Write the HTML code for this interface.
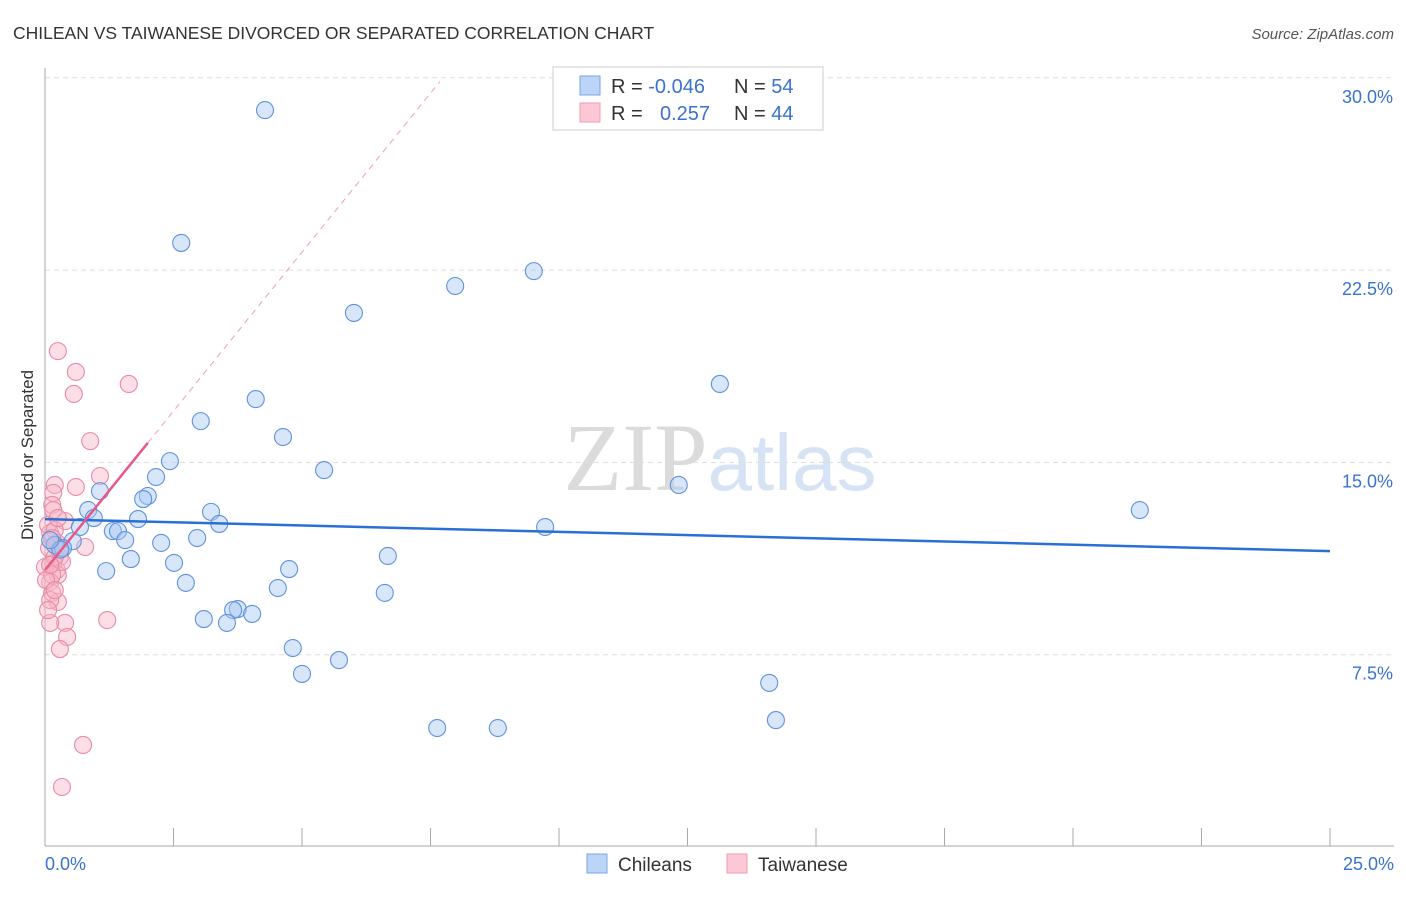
<!DOCTYPE html>
<html><head><meta charset="utf-8"><style>
body{margin:0;background:#fff;font-family:"Liberation Sans",sans-serif}
</style></head><body>
<svg id="chart" width="1406" height="892" xmlns="http://www.w3.org/2000/svg" font-family="Liberation Sans, sans-serif">
<text x="13" y="39" font-size="17.5" fill="#333">CHILEAN VS TAIWANESE DIVORCED OR SEPARATED CORRELATION CHART</text>
<text x="1394" y="39" font-size="15" fill="#555" font-style="italic" text-anchor="end">Source: ZipAtlas.com</text>
<text x="720" y="490" font-size="96" text-anchor="middle" fill="#ddd" opacity="0.7"><tspan font-family="Liberation Serif, serif" fill="#ccc">ZIP</tspan><tspan fill="#c5d8f0" font-size="80">atlas</tspan></text>
<g id="grid"></g>
<g id="axes"></g>
<g id="marks"></g>
<text transform="translate(33,455) rotate(-90)" font-size="17" fill="#333" text-anchor="middle">Divorced or Separated</text>
<g>
<rect x="553" y="67" width="270" height="63" fill="#fff" stroke="#ccc"/>
<rect x="580" y="76" width="20" height="19" fill="#bcd4f5" stroke="#7aa6e6"/>
<rect x="580" y="103" width="20" height="19" fill="#fcc8d6" stroke="#ee9db5"/>
<text x="611" y="93" font-size="20" fill="#333">R = <tspan fill="#3a72d0">-0.046</tspan></text>
<text x="734" y="93" font-size="20" fill="#333">N = <tspan fill="#3a72d0">54</tspan></text>
<text x="611" y="120" font-size="20" fill="#333">R = <tspan fill="#3a72d0" x="660">0.257</tspan></text>
<text x="734" y="120" font-size="20" fill="#333">N = <tspan fill="#3a72d0">44</tspan></text>
</g>
<g>
<rect x="587" y="854" width="20" height="19" fill="#bcd4f5" stroke="#7aa6e6"/>
<text x="618" y="871" font-size="19" fill="#333">Chileans</text>
<rect x="727" y="854" width="20" height="19" fill="#fcc8d6" stroke="#ee9db5"/>
<text x="758" y="871" font-size="19" fill="#333">Taiwanese</text>
</g>
</svg>
<script>
const yTicks=[7.5,15,22.5,30];
const yTickLabels=["7.5%","15.0%","22.5%","30.0%"];
const xTickLabels=["0.0%","25.0%"];
const chileX=[4.28,2.65,9.51,7.98,6.01,13.13,4.10,3.03,4.63,2.43,5.43,2.16,12.33,1.07,2.00,1.91,21.30,0.84,3.23,0.95,1.81,3.39,9.73,0.68,1.32,1.42,1.56,2.96,2.26,0.54,0.19,0.35,6.67,1.67,2.51,1.19,4.75,2.74,4.53,6.61,3.75,3.66,4.03,3.09,3.54,4.82,5.72,5.00,14.09,7.63,8.81,14.22,0.30,0.10];
const chileY=[28.74,23.56,22.46,21.88,20.83,18.06,17.47,16.61,15.99,15.05,14.70,14.43,14.12,13.88,13.69,13.57,13.14,13.14,13.07,12.83,12.79,12.60,12.48,12.48,12.32,12.32,11.97,12.05,11.86,11.93,11.78,11.66,11.35,11.23,11.08,10.76,10.84,10.30,10.10,9.91,9.28,9.24,9.09,8.89,8.74,7.76,7.29,6.75,6.40,4.64,4.64,4.95,11.60,11.97];
const taiX=[0.25,0.60,0.56,1.63,0.88,1.07,0.60,0.19,0.16,0.14,0.39,0.16,0.10,0.78,0.23,0.29,0.16,0.23,0.25,0.10,0.14,0.25,0.10,1.21,0.39,0.10,0.43,0.29,0.74,0.33,0.06,0.19,0.08,0.33,0.00,0.14,0.06,0.19,0.29,0.14,0.25,0.02,0.19,0.10];
const taiY=[19.34,18.53,17.67,18.06,15.83,14.47,14.04,14.12,13.81,13.34,12.71,13.14,12.25,11.70,11.86,11.31,11.08,10.80,10.61,10.34,9.91,9.56,9.63,8.85,8.74,8.74,8.19,7.72,3.98,2.34,12.56,12.36,11.66,11.12,10.92,10.61,9.24,11.31,11.66,12.05,12.83,10.41,10.02,11.00];
const chileTrend=[12.79,11.54];
const taiTrend=[10.80,2.48];
const NS="http://www.w3.org/2000/svg";
const X=v=>45+v/25*1285, Y=v=>847-v/7.5*192.3;
function mk(p,t,a){const e=document.createElementNS(NS,t);for(const k in a)e.setAttribute(k,a[k]);document.getElementById(p).appendChild(e);return e;}
yTicks.forEach((t,i)=>{
 const g=mk('grid','line',{x1:45,x2:1394,y1:Y(t),y2:Y(t),stroke:'#ddd','stroke-dasharray':'5,4'});
 
 
 const l=mk('axes','text',{x:1393,y:Y(t)+25,'font-size':18,fill:'#3a72d0','text-anchor':'end'});
 l.textContent=yTickLabels[i];
 
 
});
let a=mk('axes','line',{x1:45,x2:45,y1:68,y2:846,stroke:'#aaa'});


a=mk('axes','line',{x1:45,x2:1394,y1:846,y2:846,stroke:'#aaa'});


for(let i=1;i<=10;i++){const t=mk('axes','line',{x1:X(i*2.5),x2:X(i*2.5),y1:828,y2:846,stroke:'#aaa'});
 
 }
[[0,'start',45],[1,'end',1394]].forEach(([i,anc,x])=>{const l=mk('axes','text',{x:x,y:870,'font-size':18,fill:'#3a72d0','text-anchor':anc});l.textContent=xTickLabels[i];
 
 });
taiX.forEach((v,i)=>{const c=mk('marks','circle',{cx:X(v),cy:Y(taiY[i]),r:8.5,fill:'#f7b6c8','fill-opacity':0.45,stroke:'#e98aa6','stroke-width':1.1});
 
 });
chileX.forEach((v,i)=>{const c=mk('marks','circle',{cx:X(v),cy:Y(chileY[i]),r:8.5,fill:'#a9c8f2','fill-opacity':0.45,stroke:'#5f92dc','stroke-width':1.1});
 
 });
let t=mk('marks','line',{x1:X(0),y1:Y(chileTrend[0]),x2:X(25),y2:Y(chileTrend[1]),stroke:'#2a6fd6','stroke-width':2.5});


t=mk('marks','line',{x1:X(2),y1:Y(taiTrend[0]+2*taiTrend[1]),x2:X(7.68),y2:Y(taiTrend[0]+7.68*taiTrend[1]),stroke:'#eaa0b5','stroke-width':1,'stroke-dasharray':'6,5'});


t=mk('marks','line',{x1:X(0),y1:Y(taiTrend[0]),x2:X(2),y2:Y(taiTrend[0]+2*taiTrend[1]),stroke:'#e8588a','stroke-width':2.5});


</script>
</body></html>
